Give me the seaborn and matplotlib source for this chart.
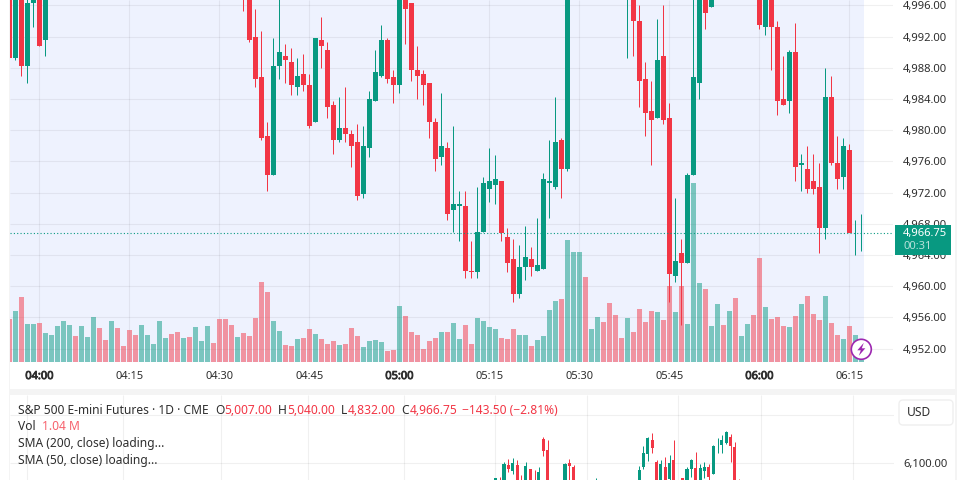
import numpy as np
import pandas as pd
import matplotlib
matplotlib.use('Agg')
import matplotlib.pyplot as plt
import matplotlib.patheffects as pe
from matplotlib.patches import Rectangle, Circle, Polygon, FancyBboxPatch
import seaborn as sns

# minutes are counted from 04:00, one candle per minute
candle_minutes = list(range(-5, 2)) + list(range(34, 89)) + list(range(98, 113)) + list(range(120, 138))
opens = [5002, 4989.25, 5003, 4988.25, 4996.25, 5002, 4991.5,
         5003, 5001, 4992, 4986.75, 4979.25, 4974.25, 4988.25, 4989.5, 4988.75, 4985.5,
         4987.25, 4985.75, 4981, 4991.5, 4990.25, 4983.25, 4978.75, 4980.25, 4979.5, 4978.5,
         4971.75, 4977.75, 4983.75, 4987, 4991.5, 4986.75, 4985.75, 5001, 4996.25, 4987.75,
         4987.25, 4986, 4981, 4976.5, 4977.75, 4969.75, 4970.25, 4970.25, 4962, 4961.75,
         4967, 4972.5, 4973, 4973.5, 4966.25, 4963.5, 4959, 4962.5, 4963.5, 4962,
         4962.25, 4973.25, 4972.75, 4978.75, 4975,
         5000, 5001, 4994, 4986.5, 4982.5, 4981.5, 4989.5, 4981.5, 4961.25, 4964.25,
         4963, 4974.25, 4986, 5001, 4995.75,
         5000, 4993.25, 5000, 4993.25, 4984, 4983.75, 4990, 4975.5, 4975, 4973.5,
         4972.75, 4967.5, 4984.25, 4975.75, 4974, 4977.5, 4966.75, 4966.75]
highs = [5003, 5001, 5004, 4998, 5000, 5003, 5001,
         5004, 5002, 4995.5, 4992.75, 4981, 4991.75, 4998, 4991, 4990.5, 4989.25,
         4989.75, 4987.25, 4991.75, 4994.5, 4991.25, 4983.75, 4984.25, 4985.5, 4980, 4980.75,
         4980.5, 4985, 4990.25, 4993.5, 4991.75, 4987.75, 4999, 5002, 4996.25, 4990.75,
         4987.75, 4986, 4981.5, 4984.75, 4978.5, 4980.5, 4972.25, 4972.25, 4965.75, 4972.75,
         4974, 4977.75, 4976.75, 4973.5, 4967.5, 4966, 4965.25, 4967.75, 4965, 4968.75,
         4974.5, 4978.75, 4984.25, 4979, 5005,
         5004, 5002, 4996, 4988.75, 4986.25, 4994.25, 4996, 4983.5, 4971.25, 4966,
         4974.5, 5000, 5001, 5002, 5001,
         5001, 5001, 5001, 4994, 4989.5, 4990.25, 4993.75, 4977, 4978, 4977,
         4975.75, 4988, 4987, 4979.25, 4979, 4978.25, 4968.5, 4969.25]
lows = [4989.25, 4989, 4987, 4986, 4993.25, 4990.75, 4989.5,
        4995.25, 4991.25, 4985.5, 4978.75, 4972.25, 4974.25, 4986.5, 4986, 4984.5, 4984.5,
        4985, 4980.25, 4981, 4988, 4981.5, 4977, 4978.5, 4978.5, 4975.25, 4971,
        4971.25, 4976.5, 4983.75, 4986.75, 4986, 4983.5, 4984.75, 4991, 4986.25, 4984,
        4983.25, 4979, 4974.75, 4975.5, 4968.5, 4967, 4965.75, 4961, 4961, 4961,
        4967, 4970.75, 4970.5, 4965.75, 4961.75, 4958, 4958.5, 4960.75, 4961.25, 4962,
        4962.25, 4968.75, 4972.5, 4971.25, 4974.75,
        4989.25, 4989.5, 4983, 4979.25, 4975.5, 4981.5, 4980.75, 4958, 4960.5, 4955,
        4963, 4974.25, 4984, 4993, 4995.75,
        4993, 4992.25, 4987.75, 4982, 4983.25, 4982.25, 4973.5, 4972.25, 4972, 4971.75,
        4964.25, 4966, 4975.5, 4972.5, 4972.5, 4967, 4964, 4964.5]
closes = [4989.25, 5000, 4988.25, 4996.25, 4999, 4990.75, 5000,
          4998, 4991.5, 4986.5, 4979, 4974.25, 4988.25, 4990, 4989, 4985.75, 4987,
          4985.75, 4980.5, 4991.75, 4990.75, 4983, 4978.75, 4980.25, 4979.5, 4978, 4971.5,
          4978, 4984, 4987.5, 4991.5, 4986.5, 4985.75, 4998, 4995.5, 4987.75, 4987,
          4985.75, 4981, 4976.25, 4978, 4969.25, 4970.5, 4970.5, 4962, 4961.75, 4967,
          4973.25, 4973.5, 4973.75, 4966.75, 4963, 4959, 4962.5, 4963.75, 4962.5, 4962.75,
          4973.75, 4973.5, 4978.5, 4975, 5004,
          5003, 4994, 4986.25, 4982.25, 4981.25, 4989, 4981.25, 4961.5, 4963.25, 4963,
          4974.25, 4986.75, 5000, 4995, 5000,
          4993.5, 5000, 4993.25, 4983.75, 4983.25, 4990, 4975.25, 4975.75, 4972.5, 4972.5,
          4967.5, 4984.25, 4975.75, 4973.75, 4978, 4966.75, 4966.75, 4966.75]

# volume per minute, arbitrary units, from 03:55 to 06:17
volume = [128, 152, 194, 113, 113, 116, 86, 80, 107, 122, 110, 77, 107, 74, 134, 101, 65, 122, 101, 47,
          95, 80, 110, 80, 53, 122, 71, 83, 89, 71, 74, 104, 62, 107, 56, 128, 128, 110, 74, 86,
          77, 131, 239, 209, 122, 92, 50, 47, 68, 71, 98, 83, 68, 53, 62, 50, 53, 101, 77, 44,
          62, 65, 59, 32, 35, 167, 137, 89, 80, 38, 62, 71, 89, 89, 116, 68, 110, 53, 131, 122,
          104, 98, 71, 68, 98, 80, 80, 47, 65, 77, 155, 182, 188, 365, 329, 329, 254, 98, 134, 119,
          176, 140, 71, 131, 89, 158, 119, 152, 149, 125, 227, 149, 227, 113, 536, 236, 218, 107, 173, 110,
          152, 191, 77, 113, 140, 311, 164, 128, 134, 107, 104, 137, 173, 197, 143, 125, 197, 116, 80, 68,
          107, 80, 5]
volume_side = list("rtrttrtttt" "trtttrrtrr" "rrtttttrrt" "rtttrrrrtr" "rrrrttrrtr" "rtrrrtrrrt" "tttrrtrrrr"
                   "rrtrttrrtt" "ttrrrttrtt" "ttrtttrttr" "rrrtrrrrtr" "rtrtttrttr" "trttrrtrrr" "trtrrrtrrt" "rtt")

price_ticks = list(range(4952, 5000, 4))
time_ticks = [0, 15, 30, 45, 60, 75, 90, 105, 120, 135]
time_labels = ['04:00', '04:15', '04:30', '04:45', '05:00', '05:15', '05:30', '05:45', '06:00', '06:15']
last_price = 4966.75

# daily chart underneath, sessions counted from the first visible candle
day_index = [0, 1, 2, 3, 4, 5, 6, 7, 8, 9, 10, 11, 12, 16, 17, 18, 23, 33, 34, 35, 36, 37, 38, 39, 40, 41,
             43, 44, 45, 46, 47, 48, 49, 50, 51, 52, 53, 54, 55, 56]
day_open = [6060, 6064, 6060, 6096.5, 6084, 6096.5, 6064, 6060, 6088, 6064, 6060, 6150.5, 6127.5, 6060, 6100.5,
            6092.5, 6062, 6060, 6092.5, 6119.5, 6148.5, 6103, 6060, 6092.5, 6067.5, 6107,
            6069.5, 6060, 6088, 6090.5, 6060, 6084, 6092.5, 6078, 6133, 6138, 6142, 6154.5, 6134, 6062]
day_high = [6070.5, 6071.5, 6103, 6109, 6111, 6107, 6076, 6103, 6088, 6086, 6092.5, 6154.5, 6148.5, 6100.5, 6109,
            6096.5, 6070, 6094.5, 6136, 6154.5, 6163, 6107, 6107, 6113, 6117, 6148.5,
            6069.5, 6092.5, 6109, 6123.5, 6098.5, 6103, 6098.5, 6138, 6152.5, 6159, 6167, 6161, 6144, 6067.5]
day_low = [6060, 6060, 6060, 6082, 6078, 6060, 6060, 6060, 6060, 6060, 6060, 6115, 6060, 6060, 6060,
           6060, 6060, 6060, 6088, 6105, 6121.5, 6060, 6060, 6060, 6060, 6060,
           6060, 6060, 6071.5, 6060, 6060, 6069.5, 6060, 6078, 6121.5, 6121.5, 6140, 6103, 6060, 6060]
day_close = [6069, 6060, 6098.5, 6088, 6100.5, 6060, 6060, 6094.5, 6060, 6060, 6082, 6125.5, 6060, 6098.5, 6094.5,
             6060, 6064, 6086, 6121.5, 6152.5, 6132, 6060, 6098.5, 6060, 6100.5, 6060,
             6060, 6088, 6107, 6060, 6090.5, 6092.5, 6071.5, 6136, 6134, 6148.5, 6165, 6136, 6060, 6060]
month_starts = [-107.5, -85.5, -63, -43, -21, 0, 21, 42, 61, 82]
day_ticks = [6100, 6200]

UP = '#089981'
DOWN = '#F23645'
SHADE = '#EEF2FE'
GRID = (0, 0, 0, 0.06)
BAND = '#F4F4F4'
TEXT = '#2E2E2E'

sns.set_theme(style='white')
plt.rcParams['font.family'] = ['Noto Sans', 'DejaVu Sans']

W, H = 966, 480
fig = plt.figure(figsize=(W / 100, H / 100), dpi=100, facecolor='white')


def px_rect(left, top, right, bottom):
    return [left / W, 1 - bottom / H, (right - left) / W, (bottom - top) / H]


def fx(x):
    return x / W


def fy(y):
    return 1 - y / H


def draw_candles(ax, x, o, h, l, c, width, min_height):
    x, o, h, l, c = map(np.array, (x, o, h, l, c))
    colors = np.where(c >= o, UP, DOWN)
    wicks = ax.vlines(x, l, h, colors=colors, linewidth=0.72, zorder=3)
    wicks.set_snap(True)
    # open == close leaves just the wick
    heights = np.where(c == o, 0, np.maximum(np.abs(c - o), min_height))
    ax.bar(x, heights, bottom=np.minimum(o, c), width=width, color=colors, linewidth=0, zorder=4)


# intraday pane: background layer has the scale and grid
ax_bg = fig.add_axes(px_rect(10, 0, 893, 362))
ax_bg.set_xlim((10 - 39.3) / 6, (893 - 39.3) / 6)
ax_bg.set_ylim(4950.27, 4996.68)
ax_bg.axvspan((10 - 39.3) / 6, (864 - 39.3) / 6, color=SHADE, linewidth=0, zorder=0)
ax_bg.hlines(price_ticks, *ax_bg.get_xlim(), color=GRID, linewidth=0.8, zorder=1)
ax_bg.vlines(time_ticks, *ax_bg.get_ylim(), color=GRID, linewidth=0.8, zorder=1)
sns.despine(ax=ax_bg, left=True, bottom=True, right=True, top=True)

# volume on its own scale, above the grid
ax_vol = ax_bg.twinx()
ax_vol.set_zorder(1)
vol_df = pd.DataFrame({'minute': np.arange(-5, 138), 'volume': volume, 'side': volume_side})
sns.barplot(data=vol_df, x='minute', y='volume', hue='side', palette={'r': DOWN, 't': UP},
            native_scale=True, dodge=False, width=5 / 6, saturation=1, alpha=0.5,
            linewidth=0, legend=False, ax=ax_vol)
ax_vol.set_xlim(ax_bg.get_xlim())
ax_vol.set_ylim(0, 1086)
ax_vol.set_xlabel('')
ax_vol.set_ylabel('')
ax_vol.yaxis.set_visible(False)
ax_vol.xaxis.set_visible(False)
sns.despine(ax=ax_vol, left=True, bottom=True, right=True, top=True)

# scale labels go on after twinx and barplot, both of them reset ticks
ax_bg.yaxis.tick_right()
ax_bg.set_yticks(price_ticks, [f'{p:,.2f}' for p in price_ticks])
ax_bg.set_xticks(time_ticks, time_labels)
ax_bg.tick_params(axis='y', length=0, pad=7.2, labelsize=8.1, labelcolor=TEXT, labelright=True, labelleft=False)
ax_bg.tick_params(axis='x', length=0, pad=6.5, labelsize=7.95, labelcolor=TEXT)
for lab, t in zip(ax_bg.get_xticklabels(), time_ticks):
    if t % 60 == 0:
        # the hour labels are heavier, a thin stroke also works without a bold face
        lab.set_fontweight('bold')
        lab.set_path_effects([pe.withStroke(linewidth=0.6, foreground=TEXT)])

# candles on top
ax_price = fig.add_axes(px_rect(10, 0, 893, 362), frameon=False)
ax_price.set_zorder(2)
draw_candles(ax_price, candle_minutes, opens, highs, lows, closes, 5 / 6, 0.16)
ax_price.hlines(last_price, *ax_bg.get_xlim(), color=UP, linewidth=0.8, linestyle=(0, (1, 2)), zorder=5)
ax_price.set_xlim(ax_bg.get_xlim())
ax_price.set_ylim(ax_bg.get_ylim())
ax_price.axis('off')

# daily pane
ax_day = fig.add_axes(px_rect(10, 395, 894, 480))
ax_day.set_xlim((10 - 495.3) / 4.357, (894 - 495.3) / 4.357)
ax_day.set_ylim(6100 - (480 - 463.3) / 0.483, 6100 + (463.3 - 395) / 0.483)
ax_day.hlines(day_ticks, *ax_day.get_xlim(), color=GRID, linewidth=0.8, zorder=1)
ax_day.vlines(month_starts, *ax_day.get_ylim(), color=GRID, linewidth=0.8, zorder=1)
draw_candles(ax_day, day_index, day_open, day_high, day_low, day_close, 0.7, 0.6)
ax_day.yaxis.tick_right()
ax_day.set_yticks([6100], ['6,100.00'])
ax_day.set_xticks([])
ax_day.tick_params(axis='y', length=0, pad=6.5, labelsize=8.1, labelcolor=TEXT)
sns.despine(ax=ax_day, left=True, bottom=True, right=True, top=True)

# frame bands between the panes
for left, top, right, bottom in [(9, 0, 10, 480), (9, 389, 957, 395), (955, 0, 957, 480)]:
    fig.add_artist(Rectangle((fx(left), fy(bottom)), fx(right - left), (bottom - top) / H,
                             transform=fig.transFigure, color=BAND, linewidth=0, zorder=0.5))

# last price tag
fig.add_artist(Rectangle((fx(895), fy(255)), fx(56), 30 / H, transform=fig.transFigure,
                         color=UP, linewidth=0, zorder=5))
fig.text(fx(903), fy(233.5), f'{last_price:,.2f}', color='white', fontsize=8.1, va='center', zorder=6)
fig.text(fx(903), fy(246.5), '00:31', color='#B5E0D9', fontsize=8.1, va='center', zorder=6)

# lightning badge
cx, cy = 861.3, 349.3
fig.add_artist(Circle((cx, H - cy), 10, transform=None, facecolor='white', edgecolor='#9C27B0',
                      linewidth=1.2, zorder=5))
bolt = [(2.5, -6.5), (-4, 1), (-0.5, 1), (-2.5, 6.5), (4, -1), (0.5, -1)]
fig.add_artist(Polygon([(cx + dx, H - cy - dy) for dx, dy in bolt], closed=True, transform=None,
                       facecolor='#9C27B0', edgecolor='none', zorder=6))

# legend of the daily chart
LEG = 8.65
fig.text(fx(18), fy(410), 'S&P 500 E-mini Futures · 1D · CME', color=TEXT, fontsize=LEG, va='center', zorder=6)
legend_bits = [(215, 'O', TEXT), (224, '5,007.00', DOWN), (278, 'H', TEXT), (287, '5,040.00', DOWN),
               (341, 'L', TEXT), (348, '4,832.00', DOWN), (401, 'C', TEXT), (410, '4,966.75', DOWN),
               (462, '−143.50 (−2.81%)', DOWN)]
for x, s, col in legend_bits:
    fig.text(fx(x), fy(410), s, color=col, fontsize=LEG, va='center', zorder=6)
fig.text(fx(18), fy(426.5), 'Vol', color=TEXT, fontsize=LEG, va='center', zorder=6)
fig.text(fx(42), fy(426.5), '1.04 M', color='#F7626D', fontsize=LEG, va='center', zorder=6)
fig.text(fx(18), fy(443.5), 'SMA (200, close) loading...', color=TEXT, fontsize=LEG, va='center', zorder=6)
fig.text(fx(18), fy(460.5), 'SMA (50, close) loading...', color=TEXT, fontsize=LEG, va='center', zorder=6)

# currency button
fig.add_artist(FancyBboxPatch((899, H - 425), 54, 25, boxstyle='round,pad=0,rounding_size=4', transform=None,
                              facecolor='white', edgecolor='#EFEFEF', linewidth=1, zorder=5))
fig.text(fx(907), fy(412), 'USD', color=TEXT, fontsize=LEG, va='center', zorder=6)

fig.savefig('out.png', dpi=100)
